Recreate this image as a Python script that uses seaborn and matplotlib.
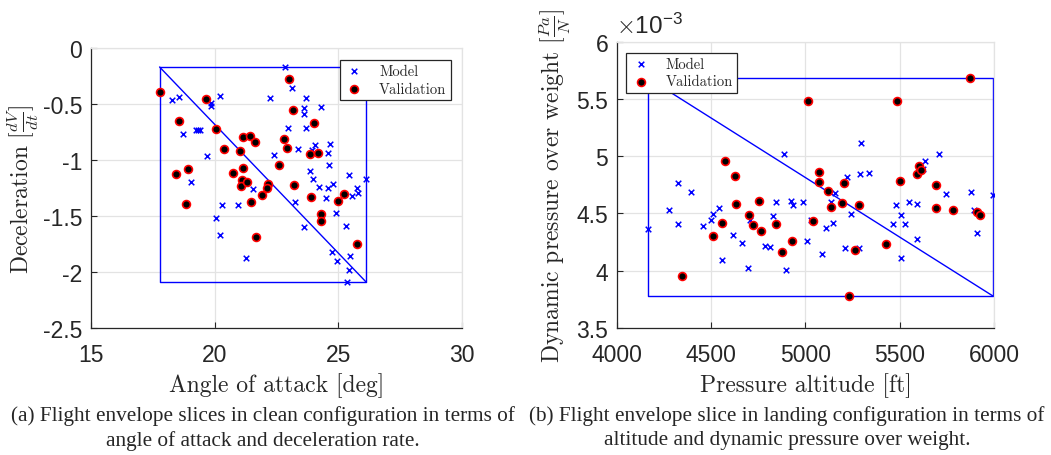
import matplotlib
matplotlib.use("Agg")
import matplotlib.pyplot as plt
from matplotlib.ticker import FuncFormatter, FixedLocator
import seaborn as sns
import pandas as pd

# ---------------- data ----------------
# (a) clean configuration
aoa_model = [22.83, 18.27, 18.58, 19.84, 19.84, 20.20, 22.24, 23.13, 23.69, 23.63, 23.60, 24.31,
             18.73, 19.25, 19.35, 19.42, 22.98, 23.69, 19.69, 22.39, 23.37, 24.06, 23.95, 24.64,
             24.57, 24.62, 23.87, 23.98, 19.03, 25.44, 26.13, 24.77, 24.23, 24.56, 25.75, 25.78,
             25.55, 21.54, 24.50, 23.25, 20.28, 20.93, 20.04, 24.89, 23.60, 25.32, 20.23, 21.28,
             24.76, 25.47, 24.95, 25.42, 25.36]
dec_model = [-0.164, -0.464, -0.438, -0.491, -0.512, -0.426, -0.446, -0.357, -0.446, -0.530, -0.586, -0.524,
             -0.765, -0.729, -0.729, -0.729, -0.714, -0.714, -0.961, -0.958, -0.896, -0.860, -0.905, -0.851,
             -0.932, -1.045, -1.098, -1.167, -1.199, -1.128, -1.164, -1.217, -1.244, -1.250, -1.253, -1.295,
             -1.321, -1.256, -1.339, -1.372, -1.402, -1.402, -1.515, -1.473, -1.598, -1.592, -1.673, -1.872,
             -1.821, -1.854, -1.905, -1.979, -2.092]
aoa_val = [17.78, 19.65, 18.56, 20.05, 23.01, 23.17, 21.15, 21.43, 21.64, 20.38, 21.01, 22.79, 22.91,
           24.00, 23.84, 24.19, 22.59, 18.44, 18.94, 20.74, 21.15, 21.09, 21.08, 21.32, 22.17, 22.10,
           21.91, 23.19, 21.48, 18.85, 23.88, 25.24, 24.99, 24.31, 24.31, 21.67, 25.73]
dec_val = [-0.390, -0.452, -0.646, -0.723, -0.271, -0.551, -0.795, -0.780, -0.839, -0.899, -0.914, -0.813,
           -0.890, -0.670, -0.943, -0.932, -1.039, -1.125, -1.083, -1.116, -1.074, -1.179, -1.232, -1.199,
           -1.217, -1.250, -1.307, -1.226, -1.372, -1.393, -1.330, -1.304, -1.366, -1.479, -1.542, -1.685,
           -1.753]
aoa_env = [17.78, 26.13]     # min, max
dec_env = [-0.167, -2.092]   # top, bottom

# (b) landing configuration (dynamic pressure over weight in units of 1e-3 Pa/N)
alt_model = [4167, 4279, 4328, 4397, 4328, 4459, 4500, 4509, 4541, 4560, 4615, 4665, 4695, 4707,
             4785, 4815, 4829, 4847, 4886, 4895, 4925, 4934, 4985, 5010, 5031, 5088, 5109, 5136,
             5145, 5159, 5208, 5221, 5242, 5284, 5288, 5295, 5339, 5465, 5481, 5504, 5506, 5529,
             5550, 5591, 5591, 5623, 5632, 5709, 5745, 5876, 5895, 5908, 5991]
qw_model = [4.363, 4.532, 4.765, 4.686, 4.410, 4.392, 4.439, 4.494, 4.544, 4.096, 4.308, 4.238,
            4.026, 4.445, 4.218, 4.209, 4.477, 4.599, 5.017, 4.006, 4.605, 4.576, 4.596, 4.262,
            4.442, 4.148, 4.375, 4.599, 4.413, 4.674, 4.201, 4.814, 4.497, 4.198, 4.840, 5.113,
            4.855, 4.410, 4.573, 4.110, 4.483, 4.404, 4.599, 4.276, 4.578, 4.884, 4.953, 5.015,
            4.672, 4.683, 4.532, 4.326, 4.663]
alt_val = [5869, 5012, 5485, 4574, 4626, 5070, 5070, 5203, 5122, 4631, 4755, 4700, 4560, 4725,
           4767, 4842, 5138, 5192, 5286, 5040, 4511, 4927, 4877, 5261, 5426, 4349, 5233, 5501,
           5589, 5603, 5610, 5690, 5692, 5779, 5911, 5926]
qw_val = [5.680, 5.480, 5.483, 4.953, 4.828, 4.860, 4.776, 4.765, 4.695, 4.584, 4.605, 4.485,
          4.419, 4.398, 4.349, 4.410, 4.555, 4.593, 4.570, 4.430, 4.305, 4.262, 4.160, 4.180,
          4.235, 3.951, 3.779, 4.782, 4.840, 4.913, 4.881, 4.747, 4.547, 4.532, 4.515, 4.488]
alt_env = [4167, 5993]
qw_env = [5.680, 3.779]

xticks_a = [15, 20, 25, 30]
yticks_a = [0, -0.5, -1, -1.5, -2, -2.5]
xticks_b = [4000, 4500, 5000, 5500, 6000]
yticks_b = [3.5, 4, 4.5, 5, 5.5, 6]

legend_labels = ["Model", "Validation"]
xlabel_a = "Angle of attack [deg]"
ylabel_a = r"Deceleration [$\frac{dV}{dt}$]"
xlabel_b = "Pressure altitude [ft]"
ylabel_b = r"Dynamic pressure over weight [$\frac{Pa}{N}$]"
caption_a = ["(a) Flight envelope slices in clean configuration in terms of",
             "angle of attack and deceleration rate."]
caption_b = ["(b) Flight envelope slice in landing configuration in terms of",
             "altitude and dynamic pressure over weight."]

# ---------------- style ----------------
sns.set_style("whitegrid")
plt.rcParams["font.family"] = ["Liberation Sans", "DejaVu Sans"]
plt.rcParams["mathtext.fontset"] = "cm"
plt.rcParams["axes.unicode_minus"] = False

DARK = "#262626"
GRID = "#e3e3e3"
cm_font = {"family": "cmr10"}

fig = plt.figure(figsize=(10.51, 4.56), dpi=100)
W, H = 1051, 456


def add_axes_px(l, t, r, b):
    return fig.add_axes([l / W, 1 - b / H, (r - l) / W, (b - t) / H])


ax1 = add_axes_px(90.7, 49.3, 462.3, 329.0)
ax2 = add_axes_px(616.5, 42.5, 994.3, 329.0)


def envelope(ax, xs, ys):
    x0, x1 = xs
    ytop, ybot = ys
    box = pd.DataFrame({"x": [x0, x1, x1, x0, x0], "y": [ytop, ytop, ybot, ybot, ytop]})
    diag = pd.DataFrame({"x": [x0, x1], "y": [ytop, ybot]})
    for d in (box, diag):
        sns.lineplot(data=d, x="x", y="y", sort=False, estimator=None, color="#0000ff",
                     linewidth=1.0, ax=ax, legend=False, zorder=2)


def points(ax, xm, ym, xv, yv):
    sns.scatterplot(x=xm, y=ym, marker="x", color="#0000ff", s=16, linewidth=1.1,
                    ax=ax, label=legend_labels[0], zorder=3)
    sns.scatterplot(x=xv, y=yv, marker="o", color="black", edgecolor="red", s=32,
                    linewidth=1.2, ax=ax, label=legend_labels[1], zorder=4)


def style(ax, xt, yt, xl, yl, ylab_x):
    ax.set_xlim(xt[0], xt[-1])
    ax.set_ylim(min(yt), max(yt))
    ax.xaxis.set_major_locator(FixedLocator(xt))
    ax.yaxis.set_major_locator(FixedLocator(yt))
    fmt = FuncFormatter(lambda v, p: "%g" % v)
    ax.xaxis.set_major_formatter(fmt)
    ax.yaxis.set_major_formatter(fmt)
    ax.grid(True, color=GRID, linewidth=0.9)
    ax.set_axisbelow(True)
    ax.tick_params(axis="both", direction="in", length=4, width=0.8, colors=DARK,
                   labelsize=16.5, left=True, bottom=True)
    ax.tick_params(axis="x", pad=11)
    ax.tick_params(axis="y", pad=6)
    for s in ("left", "bottom"):
        ax.spines[s].set_color(DARK)
        ax.spines[s].set_linewidth(0.9)
    for s in ("top", "right"):
        ax.spines[s].set_color(GRID)
        ax.spines[s].set_linewidth(0.9)
    ax.set_xlabel(xl, fontsize=17, color=DARK, labelpad=4, fontdict=cm_font)
    ax.set_ylabel(yl, fontsize=17, color=DARK, fontdict=cm_font)
    ax.yaxis.set_label_coords(ylab_x, 0.5)


envelope(ax1, aoa_env, dec_env)
points(ax1, aoa_model, dec_model, aoa_val, dec_val)
style(ax1, xticks_a, yticks_a, xlabel_a, ylabel_a, (41.5 - 90.7) / 371.6)

envelope(ax2, alt_env, qw_env)
points(ax2, alt_model, qw_model, alt_val, qw_val)
style(ax2, xticks_b, yticks_b, xlabel_b, ylabel_b, (573 - 616.5) / 377.8)
ax2.text(0.0, 1.012, r"$\times$10$^{\mathregular{-3}}$", transform=ax2.transAxes,
         fontsize=17.5, color=DARK, ha="left", va="bottom")

leg_kw = dict(frameon=True, fancybox=False, framealpha=1, edgecolor=DARK,
              prop={"family": "cmr10", "size": 10.5}, borderaxespad=0,
              handlelength=1.4, handletextpad=1.0, borderpad=0.3, labelspacing=0.25)
l1 = ax1.legend(loc="upper right", bbox_to_anchor=(0.969, 0.958), **leg_kw)
l2 = ax2.legend(loc="upper left", bbox_to_anchor=(0.025, 0.960), **leg_kw)
for lg in (l1, l2):
    lg.get_frame().set_linewidth(0.9)
    lg.set_zorder(10)

cap_font = {"family": "Liberation Serif", "size": 15.3}
for cap, cx in ((caption_a, 263), (caption_b, 787)):
    fig.text(cx / W, 1 - 416 / H, cap[0], ha="center", va="center", fontdict=cap_font)
    fig.text(cx / W, 1 - 441 / H, cap[1], ha="center", va="center", fontdict=cap_font)

fig.savefig("out.png", dpi=100)
